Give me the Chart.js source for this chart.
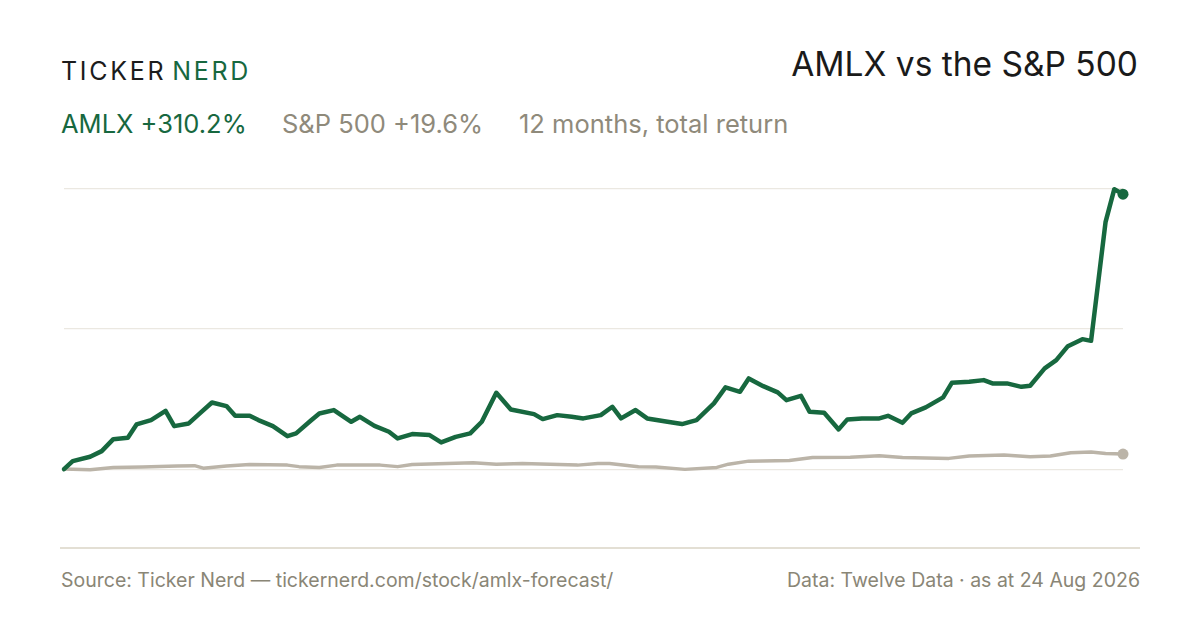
<!DOCTYPE html>
<html>
<head>
<meta charset="utf-8">
<script src="https://cdn.jsdelivr.net/npm/chart.js@4.4.1/dist/chart.umd.min.js"></script>
<style>
  html, body { margin: 0; padding: 0; background: #ffffff; }
  body { width: 1200px; height: 630px; position: relative; overflow: hidden; font-family: Inter, "Noto Sans", sans-serif; }
  .logo { position: absolute; left: 61px; top: 56px; font-size: 25px; letter-spacing: 2.7px; color: #1c1c1c; font-weight: 400; }
  .logo span { color: #17683f; margin-left: 6px; }
  .title { position: absolute; right: 62px; top: 44px; font-size: 33.5px; color: #1a1a1a; font-weight: 400; }
  .sub { position: absolute; top: 108px; font-size: 25.5px; font-weight: 400; }
  .footer { position: absolute; top: 568px; font-size: 19.5px; color: #8a8676; }
  .rule { position: absolute; left: 60px; top: 547px; width: 1080px; height: 2px; background: #e3dfd4; }
  #wrap { position: absolute; left: 0; top: 0; width: 1200px; height: 630px; }
</style>
</head>
<body>
<div class="logo">TICKER<span>NERD</span></div>
<div class="title">AMLX vs the S&amp;P 500</div>
<div class="sub" style="left:61px;color:#17683f">AMLX +310.2%</div>
<div class="sub" style="left:282px;color:#8f8a7b">S&amp;P 500 +19.6%</div>
<div class="sub" style="left:519px;color:#8f8a7b">12 months, total return</div>
<div class="rule"></div>
<div class="footer" style="left:61px">Source: Ticker Nerd — tickernerd.com/stock/amlx-forecast/</div>
<div class="footer" style="right:60px">Data: Twelve Data · as at 24 Aug 2026</div>
<div id="wrap"><canvas id="chart"></canvas></div>
<script>
// giorni dall'inizio (0-365) e rendimento totale in %
const amlxDays = [0, 3, 9, 13, 17, 22, 25, 30, 35, 38, 43, 47, 51, 56, 59, 64, 67, 72, 77, 80,
  85, 88, 93, 99, 102, 107, 112, 115, 120, 126, 130, 135, 140, 144, 149, 154, 162, 165, 170, 175,
  179, 185, 189, 192, 197, 201, 208, 213, 218, 224, 228, 233, 236, 241, 246, 249, 254, 257, 262, 267,
  270, 275, 281, 284, 289, 292, 297, 303, 306, 312, 317, 320, 325, 330, 333, 338, 342, 346, 351, 354,
  359, 362, 365];
const amlxReturn = [0, 9.0, 13.9, 20.3, 33.8, 35.3, 50.4, 55.3, 65.8, 48.5, 51.5, 63.5, 75.2, 71.1, 60.1, 60.1, 55.3, 48.5, 37.2, 40.3,
  54.5, 62.8, 66.6, 53.4, 59.0, 48.8, 42.1, 34.6, 39.5, 38.4, 30.1, 36.4, 40.3, 53.4, 86.1, 67.3, 62.0, 56.4, 60.9, 59.0,
  57.2, 60.9, 70.3, 57.2, 66.6, 57.2, 53.4, 50.8, 55.3, 74.1, 92.2, 87.2, 102.3, 93.6, 86.5, 77.8, 82.7, 64.6, 63.5, 44.8,
  56.1, 57.2, 57.2, 60.1, 52.2, 62.8, 69.6, 80.9, 97.3, 98.5, 100.4, 96.7, 96.7, 92.8, 94.0, 113.6, 122.9, 138.7, 146.6, 144.7,
  279.0, 315.8, 310.2];

const spxDays = [0, 9, 17, 27, 39, 45, 48, 56, 64, 77, 81, 88, 94, 109, 115, 120, 141, 149, 158, 177,
  184, 188, 198, 204, 214, 225, 229, 236, 250, 258, 271, 281, 289, 305, 312, 324, 333, 340, 347, 354,
  359, 365];
const spxReturn = [0, -0.6, 1.7, 2.3, 3.4, 3.9, 1.1, 3.4, 5.1, 4.5, 2.8, 1.9, 4.5, 4.5, 2.8, 5.1, 7.1, 5.6, 6.4, 4.5,
  6.4, 6.2, 2.6, 2.3, -0.3, 1.9, 5.6, 9.0, 9.6, 13.2, 13.5, 15.2, 13.2, 12.1, 14.7, 15.8, 13.9, 14.7, 18.4, 19.2,
  17.7, 17.0];

// linee della griglia
const gridValues = [0, 158, 316];
const yMin = -89;
const yMax = 316;

const green = '#17683f';
const grey = '#bbb4a8';

function toPoints(days, vals) {
    return days.map((d, i) => ({ x: d, y: vals[i] }));
}
function lastOnly(n, r) {
    return ctx => ctx.dataIndex === n - 1 ? r : 0;
}

const ctx = document.getElementById('chart').getContext('2d');
new Chart(ctx, {
    type: 'line',
    data: {
        datasets: [
            {
                label: 'AMLX',
                data: toPoints(amlxDays, amlxReturn),
                borderColor: green,
                backgroundColor: green,
                borderWidth: 4.5,
                borderJoinStyle: 'round',
                borderCapStyle: 'round',
                tension: 0,
                pointRadius: lastOnly(amlxDays.length, 5.5),
                pointHoverRadius: 0,
                pointBorderWidth: 0,
                clip: false,
                order: 1
            },
            {
                label: 'S&P 500',
                data: toPoints(spxDays, spxReturn),
                borderColor: grey,
                backgroundColor: grey,
                borderWidth: 3.5,
                borderJoinStyle: 'round',
                borderCapStyle: 'round',
                tension: 0,
                pointRadius: lastOnly(spxDays.length, 5.5),
                pointHoverRadius: 0,
                pointBorderWidth: 0,
                clip: false,
                order: 2
            }
        ]
    },
    options: {
        responsive: true,
        maintainAspectRatio: false,
        animation: false,
        layout: { padding: { left: 64, right: 77, top: 189, bottom: 82 } },
        scales: {
            x: { type: 'linear', min: 0, max: 365, display: false },
            y: {
                min: yMin,
                max: yMax,
                afterBuildTicks: scale => { scale.ticks = gridValues.map(v => ({ value: v })); },
                ticks: { display: false },
                border: { display: false },
                grid: { color: '#ebe8e1', lineWidth: 1.2, drawTicks: false }
            }
        },
        plugins: {
            legend: { display: false },
            tooltip: { enabled: false }
        }
    }
});
</script>
</body>
</html>
